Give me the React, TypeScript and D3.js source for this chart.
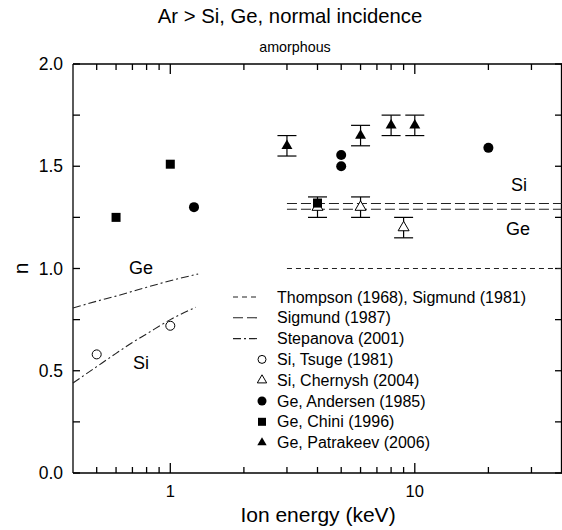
import React from 'react';
import * as d3 from 'd3';

// Si, Tsuge (1981)
const tsugeE = [0.5, 1.0];
const tsugeN = [0.58, 0.72];
// Si, Chernysh (2004)
const chernyshE = [4, 6, 9];
const chernyshN = [1.3, 1.3, 1.2];
const chernyshErr = [0.05, 0.05, 0.05];
// Ge, Andersen (1985)
const andersenE = [1.25, 5, 5, 20];
const andersenN = [1.3, 1.555, 1.5, 1.59];
// Ge, Chini (1996)
const chiniE = [0.6, 1.0, 4.0];
const chiniN = [1.25, 1.51, 1.32];
// Ge, Patrakeev (2006)
const patrakeevE = [3, 6, 8, 10];
const patrakeevN = [1.6, 1.65, 1.7, 1.7];
const patrakeevErr = [0.05, 0.05, 0.05, 0.05];

// Stepanova (2001) curves
const stepGeE = [0.4, 0.5, 0.6, 0.7, 0.8, 1.0, 1.3];
const stepGeN = [0.807, 0.84, 0.865, 0.888, 0.908, 0.94, 0.973];
const stepSiE = [0.4, 0.5, 0.6, 0.7, 0.8, 1.0, 1.27];
const stepSiN = [0.44, 0.52, 0.585, 0.638, 0.68, 0.75, 0.81];

// Thompson (1968), Sigmund (1981) and Sigmund (1987) levels
const flatE = [3, 40];
const thompsonN = 1.0;
const sigmundSiN = 1.318;
const sigmundGeN = 1.29;

const legendItems = [
  { label: 'Thompson (1968), Sigmund (1981)', kind: 'short' },
  { label: 'Sigmund (1987)', kind: 'long' },
  { label: 'Stepanova (2001)', kind: 'dashdot' },
  { label: 'Si, Tsuge (1981)', kind: 'ocircle' },
  { label: 'Si, Chernysh (2004)', kind: 'otri' },
  { label: 'Ge, Andersen (1985)', kind: 'fcircle' },
  { label: 'Ge, Chini (1996)', kind: 'fsquare' },
  { label: 'Ge, Patrakeev (2006)', kind: 'ftri' },
];

const W = 562;
const H = 530;
const left = 73, right = 562, top = 64, bottom = 473;
const font = "'Liberation Sans', Arial, Helvetica, sans-serif";

const dashShort = '5,4';
const dashLong = '10,4';
const dashDot = '8,3,2,3';

export default function App() {
  const x = d3.scaleLog().domain([0.4, 40]).range([left, right]);
  const y = d3.scaleLinear().domain([0, 2]).range([bottom, top]);

  const line = d3.line<[number, number]>().x(d => x(d[0])).y(d => y(d[1])).curve(d3.curveMonotoneX);

  const triPath = d3.symbol().type(d3.symbolTriangle).size(52)() as string;
  const triSmall = d3.symbol().type(d3.symbolTriangle).size(38)() as string;

  const xTicks = x.ticks().filter(t => t > 0.4 && t < 40);
  const majorX = [1, 10];
  const yTicks = d3.range(0, 2.001, 0.25);
  const yLabels = [0, 0.5, 1, 1.5, 2];

  const errBar = (e: number, n: number, err: number, key: string) => (
    <g key={key} stroke="#000" strokeWidth={1.2}>
      <line x1={x(e)} x2={x(e)} y1={y(n - err)} y2={y(n + err)} />
      <line x1={x(e) - 9.5} x2={x(e) + 9.5} y1={y(n - err)} y2={y(n - err)} />
      <line x1={x(e) - 9.5} x2={x(e) + 9.5} y1={y(n + err)} y2={y(n + err)} />
    </g>
  );

  const legendX0 = 233, legendX1 = 260, legendText = 277, legendY0 = 297, legendDy = 20.8;

  return (
    <svg width={W} height={H} style={{ position: 'absolute', left: 0, top: 0 }} fontFamily={font}>
      <rect width={W} height={H} fill="#fff" />
      <text x={290} y={23} textAnchor="middle" fontSize={20.3}>Ar &gt; Si, Ge, normal incidence</text>
      <text x={295} y={52} textAnchor="middle" fontSize={14.3}>amorphous</text>

      {/* frame */}
      <g stroke="#000" strokeWidth={1.3} fill="none">
        <line x1={left} x2={right} y1={bottom} y2={bottom} />
        <line x1={left} x2={right} y1={top} y2={top} />
        <line x1={left} x2={left} y1={top} y2={bottom} />
        <line x1={right - 0.5} x2={right - 0.5} y1={top} y2={bottom} />
        {xTicks.map(t => {
          const len = majorX.includes(t) ? 10 : 6;
          return (
            <g key={'xt' + t}>
              <line x1={x(t)} x2={x(t)} y1={bottom} y2={bottom - len} />
              <line x1={x(t)} x2={x(t)} y1={top} y2={top + len} />
            </g>
          );
        })}
        {yTicks.map(t => (
          <g key={'yt' + t}>
            <line x1={left} x2={left + 7} y1={y(t)} y2={y(t)} />
            <line x1={right} x2={right - 7} y1={y(t)} y2={y(t)} />
          </g>
        ))}
      </g>
      {yLabels.map(t => (
        <text key={'yl' + t} x={left - 10} y={y(t) + 6} textAnchor="end" fontSize={17.5}>{t.toFixed(1)}</text>
      ))}
      {majorX.map(t => (
        <text key={'xl' + t} x={x(t)} y={bottom + 24} textAnchor="middle" fontSize={16.5}>{t}</text>
      ))}
      <text x={318} y={522} textAnchor="middle" fontSize={21}>Ion energy (keV)</text>
      <text transform={`translate(28,${y(1)}) rotate(-90)`} textAnchor="middle" fontSize={21}>n</text>

      {/* theory lines */}
      <g fill="none" stroke="#222" strokeWidth={1.1}>
        <line x1={x(flatE[0])} x2={x(flatE[1])} y1={y(thompsonN)} y2={y(thompsonN)} strokeDasharray={dashShort} />
        <line x1={x(flatE[0])} x2={x(flatE[1])} y1={y(sigmundSiN)} y2={y(sigmundSiN)} strokeDasharray={dashLong} />
        <line x1={x(flatE[0])} x2={x(flatE[1])} y1={y(sigmundGeN)} y2={y(sigmundGeN)} strokeDasharray={dashLong} />
        <path d={line(stepGeE.map((e, i) => [e, stepGeN[i]]) as [number, number][]) as string} strokeDasharray={dashDot} />
        <path d={line(stepSiE.map((e, i) => [e, stepSiN[i]]) as [number, number][]) as string} strokeDasharray={dashDot} />
      </g>
      <text x={141} y={274} textAnchor="middle" fontSize={18}>Ge</text>
      <text x={141} y={369} textAnchor="middle" fontSize={18}>Si</text>
      <text x={519} y={191} textAnchor="middle" fontSize={18}>Si</text>
      <text x={518} y={235} textAnchor="middle" fontSize={18}>Ge</text>

      {/* data */}
      {tsugeE.map((e, i) => (
        <circle key={'ts' + i} cx={x(e)} cy={y(tsugeN[i])} r={4.5} fill="#fff" stroke="#000" strokeWidth={1} />
      ))}
      {chernyshE.map((e, i) => errBar(e, chernyshN[i], chernyshErr[i], 'ce' + i))}
      {chernyshE.map((e, i) => (
        <path key={'ch' + i} d={triPath} transform={`translate(${x(e)},${y(chernyshN[i])})`} fill="#fff" stroke="#000" strokeWidth={1} />
      ))}
      {chiniE.map((e, i) => (
        <rect key={'cn' + i} x={x(e) - 4.5} y={y(chiniN[i]) - 4.5} width={9} height={9} fill="#000" />
      ))}
      {andersenE.map((e, i) => (
        <circle key={'an' + i} cx={x(e)} cy={y(andersenN[i])} r={5} fill="#000" />
      ))}
      {patrakeevE.map((e, i) => errBar(e, patrakeevN[i], patrakeevErr[i], 'pe' + i))}
      {patrakeevE.map((e, i) => (
        <path key={'pa' + i} d={triPath} transform={`translate(${x(e)},${y(patrakeevN[i])})`} fill="#000" />
      ))}

      {/* legend */}
      {legendItems.map((it, i) => {
        const ly = legendY0 + i * legendDy;
        const mx = 262;
        let mark: React.ReactNode = null;
        if (it.kind === 'short' || it.kind === 'long' || it.kind === 'dashdot') {
          const da = it.kind === 'short' ? dashShort : it.kind === 'long' ? dashLong : dashDot;
          mark = <line x1={legendX0} x2={legendX1} y1={ly} y2={ly} stroke="#222" strokeWidth={1.1} strokeDasharray={da} />;
        } else if (it.kind === 'ocircle') {
          mark = <circle cx={mx} cy={ly} r={4} fill="#fff" stroke="#000" strokeWidth={1} />;
        } else if (it.kind === 'fcircle') {
          mark = <circle cx={mx} cy={ly} r={4.5} fill="#000" />;
        } else if (it.kind === 'fsquare') {
          mark = <rect x={mx - 4} y={ly - 4} width={8} height={8} fill="#000" />;
        } else if (it.kind === 'otri') {
          mark = <path d={triSmall} transform={`translate(${mx},${ly})`} fill="#fff" stroke="#000" strokeWidth={1} />;
        } else {
          mark = <path d={triSmall} transform={`translate(${mx},${ly})`} fill="#000" />;
        }
        return (
          <g key={'lg' + i}>
            {mark}
            <text x={legendText} y={ly + 5.5} fontSize={16}>{it.label}</text>
          </g>
        );
      })}
    </svg>
  );
}
